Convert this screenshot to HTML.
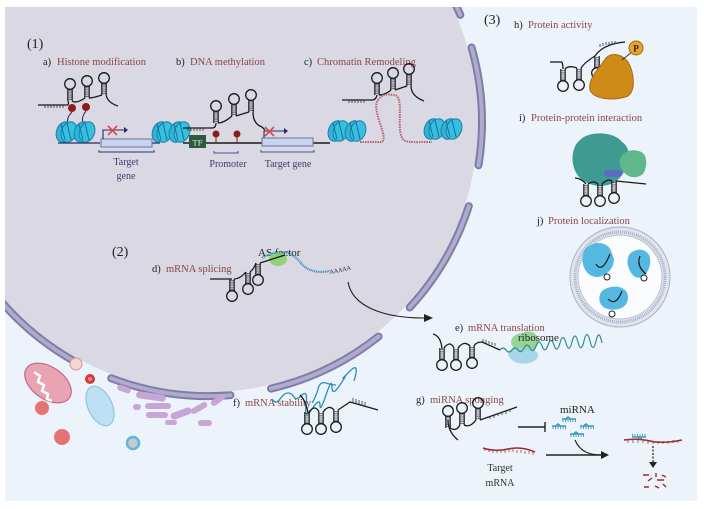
<!DOCTYPE html>
<html><head><meta charset="utf-8"><style>
html,body{margin:0;padding:0;background:#fff;}
svg{display:block;}
text{font-family:"Liberation Serif",serif;}
.lb{fill:#8a4646;font-size:10.5px;}
.dk{fill:#222;font-size:10.5px;}
.nv{fill:#3c3d6a;font-size:10px;}
</style></head><body>
<svg width="704" height="509" viewBox="0 0 704 509" xmlns="http://www.w3.org/2000/svg">
<defs>
<clipPath id="pc"><rect x="5" y="7" width="692" height="494"/></clipPath>
<symbol id="hp" overflow="visible">
 <line x1="-2.2" y1="0" x2="-2.2" y2="-12" stroke="#1a1a1a" stroke-width="1.2"/>
 <line x1="2.2" y1="0" x2="2.2" y2="-12" stroke="#1a1a1a" stroke-width="1.2"/>
 <line x1="0" y1="-1" x2="0" y2="-12" stroke="#333" stroke-width="4.4" stroke-dasharray="0.6 1.3"/>
 <circle cx="0" cy="-17" r="5.3" fill="none" stroke="#1a1a1a" stroke-width="1.3"/>
</symbol>
<symbol id="nuc" overflow="visible">
 <ellipse cx="0" cy="0" rx="7.5" ry="10.5" fill="#2fb3d6" stroke="#1b7fa8" stroke-width="1" transform="rotate(20)"/>
 <ellipse cx="5" cy="0" rx="7.5" ry="10.5" fill="#36bfe0" stroke="#1b7fa8" stroke-width="1" transform="rotate(20 5 0)"/>
 <line x1="-3" y1="-8" x2="1" y2="8" stroke="#1b6f98" stroke-width="1"/>
 <line x1="3" y1="-9" x2="7" y2="8" stroke="#1b6f98" stroke-width="1"/>
</symbol>
<symbol id="mi" overflow="visible">
 <path d="M0 0 h14" stroke="#2a8fb8" stroke-width="1.3" fill="none"/>
 <path d="M1 0v3M3.5 0v3M6 0v3M8.5 0v3M11 0v3M13.5 0v3" stroke="#2a8fb8" stroke-width="0.8"/>
 <path d="M4 0 q2 -4 4 0" stroke="#2a8fb8" stroke-width="1.2" fill="none"/>
</symbol>
</defs>
<rect width="704" height="509" fill="#fff"/>
<g clip-path="url(#pc)">
<rect x="5" y="7" width="692" height="494" fill="#edf3fb"/>
<circle cx="208" cy="122" r="270" fill="#d9d8e3"/>
<g fill="none" stroke-linecap="round">
 <g stroke="#7f7ca6" stroke-width="8">
  <path d="M445.3 -15 A274 274 0 0 1 460.3 14.9"/>
  <path d="M471.6 47.5 A274 274 0 0 1 478.5 165.3"/>
  <path d="M468.8 206.2 A274 274 0 0 1 409.7 307.5"/>
  <path d="M378.6 336.5 A274 274 0 0 1 271 388.6"/>
  <path d="M230.5 395.2 A274 274 0 0 1 111.2 378.3"/>
  <path d="M75.1 361.7 A274 274 0 0 1 2 302.5"/>
 </g>
 <g stroke="#aeabcc" stroke-width="4">
  <path d="M445.3 -15 A274 274 0 0 1 460.3 14.9"/>
  <path d="M471.6 47.5 A274 274 0 0 1 478.5 165.3"/>
  <path d="M468.8 206.2 A274 274 0 0 1 409.7 307.5"/>
  <path d="M378.6 336.5 A274 274 0 0 1 271 388.6"/>
  <path d="M230.5 395.2 A274 274 0 0 1 111.2 378.3"/>
  <path d="M75.1 361.7 A274 274 0 0 1 2 302.5"/>
 </g>
</g>
</g>

<!-- Section 1 -->
<text x="27" y="48" font-size="14" fill="#222">(1)</text>
<text x="43" y="65" class="dk">a)</text><text x="57" y="65" class="lb">Histone modification</text>
<text x="176" y="65" class="dk">b)</text><text x="190" y="65" class="lb">DNA methylation</text>
<text x="304" y="65" class="dk">c)</text><text x="317" y="65" class="lb">Chromatin Remodeling</text>

<!-- a -->
<path d="M38 105 H68" stroke="#1a1a1a" stroke-width="1.3"/>
<path d="M45 105 v3 M48 105v3 M51 105v3 M54 105v3 M57 105v3 M60 105v3 M63 105v3" stroke="#333" stroke-width="0.8"/>
<use href="#hp" x="70" y="101"/>
<use href="#hp" x="87" y="98"/>
<use href="#hp" x="104" y="95"/>
<path d="M68 105 q1 -3 0 -4 M72 101 q4 3 13 -3 M89 98 q4 0 13 -3 M106 95 q2 8 12 11" stroke="#1a1a1a" stroke-width="1.3" fill="none"/>
<circle cx="72" cy="108" r="4" fill="#8e1b1e"/><circle cx="86" cy="107" r="4" fill="#8e1b1e"/>
<path d="M72 112 q-6 6 -4 12 M86 111 q-5 6 -3 12" stroke="#2a2a60" stroke-width="1" fill="none"/>
<path d="M58 143 H100 M152 143 H160" stroke="#2a2a60" stroke-width="1.2"/>
<use href="#nuc" x="64" y="132"/><use href="#nuc" x="82" y="132"/>
<rect x="101" y="139" width="51" height="8" fill="#c9d4ef" stroke="#6a6fa5" stroke-width="1"/>
<path d="M103 139 V130 H124" stroke="#2a2a60" stroke-width="1.1" fill="none"/><path d="M124 127 l4 3 l-4 3z" fill="#2a2a60"/>
<path d="M108 126 l9 9 M117 126 l-9 9" stroke="#d84a4a" stroke-width="1.6"/>
<path d="M99 150 v2 H154 v-2" stroke="#4a4f99" stroke-width="1.2" fill="none"/>
<text x="126" y="165" class="nv" text-anchor="middle">Target</text>
<text x="126" y="179" class="nv" text-anchor="middle">gene</text>

<!-- b -->
<use href="#nuc" x="160" y="132"/><use href="#nuc" x="177" y="132"/>
<path d="M183 143 H330" stroke="#1a1a1a" stroke-width="1.5"/>
<path d="M183 128 H212" stroke="#1a1a1a" stroke-width="1.3"/>
<path d="M188 128v3M191 128v3M194 128v3M197 128v3M200 128v3M203 128v3" stroke="#333" stroke-width="0.8"/>
<rect x="189" y="135" width="17" height="13" fill="#2b5b3c"/>
<text x="197.5" y="145.5" fill="#e8f0e8" font-size="8.5" text-anchor="middle" font-family="Liberation Sans, sans-serif">TF</text>
<use href="#hp" x="216" y="123"/><use href="#hp" x="234" y="116"/><use href="#hp" x="251" y="112"/>
<path d="M212 128 q4 0 4 -5 M218 123 q6 0 14 -7 M236 116 q6 -2 13 -4 M253 112 q0 12 9 15 L265 130" stroke="#1a1a1a" stroke-width="1.3" fill="none"/>
<line x1="216" y1="134" x2="216" y2="143" stroke="#8e1b1e" stroke-width="1"/><circle cx="216" cy="134" r="3.5" fill="#8e1b1e"/>
<line x1="237" y1="134" x2="237" y2="143" stroke="#8e1b1e" stroke-width="1"/><circle cx="237" cy="134" r="3.5" fill="#8e1b1e"/>
<path d="M214 151 v2 H238 v-2" stroke="#4a4f99" stroke-width="1.1" fill="none"/>
<text x="228" y="167" class="nv" text-anchor="middle">Promoter</text>
<rect x="262" y="138" width="51" height="8" fill="#c9d4ef" stroke="#6a6fa5" stroke-width="1"/>
<path d="M264 138 V131 H284" stroke="#2a2a60" stroke-width="1.1" fill="none"/><path d="M284 128 l4 3 l-4 3z" fill="#2a2a60"/>
<path d="M265 127 l9 9 M274 127 l-9 9" stroke="#d84a4a" stroke-width="1.6"/>
<path d="M261 150 v2 H314 v-2" stroke="#4a4f99" stroke-width="1.1" fill="none"/>
<text x="288" y="167" class="nv" text-anchor="middle">Target gene</text>

<!-- c -->
<use href="#nuc" x="336" y="131"/><use href="#nuc" x="353" y="131"/>
<use href="#nuc" x="432" y="129"/><use href="#nuc" x="449" y="129"/>
<path d="M342 100 H372" stroke="#1a1a1a" stroke-width="1.3"/>
<path d="M349 100v3M352 100v3M355 100v3M358 100v3M361 100v3M364 100v3" stroke="#333" stroke-width="0.8"/>
<use href="#hp" x="377" y="95"/><use href="#hp" x="393" y="90"/><use href="#hp" x="409" y="86"/>
<path d="M372 100 q4 0 5 -5 M379 95 q6 0 12 -5 M395 90 q6 -2 12 -4 M411 86 q0 10 13 15" stroke="#1a1a1a" stroke-width="1.3" fill="none"/>
<path d="M360 142 H380 C392 142 370 110 378 100 C384 92 390 95 394 95 C405 96 396 125 402 138 C405 143 410 142 432 142" stroke="#b8606a" stroke-width="2" stroke-dasharray="1.5 1" fill="none"/>

<!-- Section 2 -->
<text x="112" y="256" font-size="14" fill="#222">(2)</text>
<text x="152" y="272" class="dk">d)</text><text x="166" y="272" class="lb">mRNA splicing</text>
<text x="258" y="256" font-size="11" fill="#222">AS factor</text>
<ellipse cx="278" cy="259" rx="9" ry="7" fill="#8ccf6a" opacity="0.9"/>
<path d="M210 279 H232" stroke="#1a1a1a" stroke-width="1.3"/>
<use href="#hp" x="232" y="279" transform="rotate(180 232 279)"/>
<use href="#hp" x="248" y="272" transform="rotate(180 248 272)"/>
<use href="#hp" x="258" y="263" transform="rotate(180 258 263)"/>
<path d="M234 279 q6 0 12 -7 M250 272 q4 -3 6 -9 M260 263 L285 255" stroke="#1a1a1a" stroke-width="1.3" fill="none"/>
<path d="M262 258 C280 248 292 252 300 262 C308 272 318 273 330 271" stroke="#2f8fbf" stroke-width="2.2" stroke-dasharray="1 0.8" fill="none"/>
<text x="330" y="274" font-size="6" fill="#222" transform="rotate(-12 330 274)" font-family="Liberation Sans, sans-serif">AAAAA</text>
<path d="M348 282 C352 305 380 318 425 318" stroke="#222" stroke-width="1.1" fill="none"/>
<path d="M424 314 l9 4 l-9 4z" fill="#222"/>

<!-- Section 3 -->
<text x="484" y="24" font-size="14" fill="#222">(3)</text>
<text x="514" y="28" class="dk">h)</text><text x="528" y="28" class="lb">Protein activity</text>
<path d="M550 62 H562" stroke="#1a1a1a" stroke-width="1.3"/>
<use href="#hp" x="563" y="69" transform="rotate(180 563 69)" />
<use href="#hp" x="579" y="68" transform="rotate(180 579 68)"/>
<path d="M562 62 q1 3 1 7 M565 69 q4 -4 12 -1 M581 68 q4 -6 14 -12" stroke="#1a1a1a" stroke-width="1.3" fill="none"/>
<use href="#hp" x="597" y="56" transform="rotate(180 597 56)"/>
<path d="M595 56 q8 -12 30 -14" stroke="#1a1a1a" stroke-width="1.3" fill="none"/>
<path d="M600 47v-3M603 46v-3M606 45v-3M609 45v-3M612 44v-3M615 44v-3" stroke="#333" stroke-width="0.8"/>
<path d="M606 58 C598 70 588 78 590 90 C594 100 615 101 628 96 C636 90 634 72 628 62 C622 54 612 52 606 58Z" fill="#d08a18" stroke="#a9690f" stroke-width="1"/>
<path d="M622 60 L632 52" stroke="#333" stroke-width="1"/>
<circle cx="636" cy="48" r="7" fill="#e7a22a" stroke="#a9690f" stroke-width="1"/>
<text x="636" y="51.5" font-size="9" text-anchor="middle" font-family="Liberation Sans, sans-serif" font-weight="bold" fill="#222">P</text>

<text x="519" y="121" class="dk">i)</text><text x="531" y="121" class="lb">Protein-protein interaction</text>
<path d="M580 140 C590 130 615 132 622 142 C632 148 630 165 622 175 C612 190 590 188 580 178 C570 168 570 148 580 140Z" fill="#3f9a92"/>
<path d="M620 165 C618 155 628 148 638 151 C648 152 648 166 643 174 C636 180 624 178 620 165Z" fill="#5fb88a"/>
<rect x="604" y="170" width="18" height="7" rx="3" fill="#5b6cc6"/>
<use href="#hp" x="586" y="184" transform="rotate(180 586 184)"/>
<use href="#hp" x="600" y="184" transform="rotate(180 600 184)"/>
<use href="#hp" x="614" y="181" transform="rotate(180 614 181)"/>
<path d="M575 178 q6 0 11 6 M588 184 q6 -4 10 0 M602 184 q6 -6 10 -3 M616 181 L646 184" stroke="#1a1a1a" stroke-width="1.3" fill="none"/>

<text x="537" y="224" class="dk">j)</text><text x="548" y="224" class="lb">Protein localization</text>
<circle cx="620" cy="277" r="50" fill="#dfe4ee" stroke="#aab2c4" stroke-width="1"/>
<circle cx="620" cy="277" r="45" fill="none" stroke="#9aa3b8" stroke-width="3" stroke-dasharray="0.8 1.2"/>
<circle cx="620" cy="277" r="42" fill="#fbfcfe" stroke="#b8bfcf" stroke-width="1"/>
<path d="M585 249 C595 239 610 242 612 254 C618 264 608 276 598 277 C586 278 578 262 585 249Z" fill="#55b8e0"/>
<path d="M632 252 C642 246 652 252 650 264 C648 276 638 282 632 274 C626 266 626 256 632 252Z" fill="#55b8e0"/>
<path d="M605 289 C615 284 628 287 628 297 C628 309 615 312 605 308 C597 304 598 292 605 289Z" fill="#55b8e0"/>
<path d="M596 264 q6 10 14 -10 M640 256 q-4 10 6 18 M608 299 q8 8 14 -8" stroke="#1a1a1a" stroke-width="1.2" fill="none"/>
<circle cx="607" cy="277" r="3" fill="#fff" stroke="#222"/><circle cx="644" cy="278" r="3" fill="#fff" stroke="#222"/><circle cx="612" cy="314" r="3" fill="#fff" stroke="#222"/>

<!-- e -->
<text x="455" y="331" class="dk">e)</text><text x="468" y="331" class="lb">mRNA translation</text>
<path d="M522 333 C532 328 540 335 538 344 C536 352 522 354 514 348 C508 342 512 334 522 333Z" fill="#8ccf8a" opacity="0.9"/>
<path d="M510 350 C520 346 535 348 538 354 C540 362 525 366 515 362 C508 358 506 352 510 350Z" fill="#9ed3e6" opacity="0.9"/>
<text x="518" y="341" font-size="11" fill="#222">ribosome</text>
<path d="M433 334 q8 2 9 15" stroke="#1a1a1a" stroke-width="1.3" fill="none"/>
<use href="#hp" x="442" y="348" transform="rotate(180 442 348)"/>
<use href="#hp" x="456" y="348" transform="rotate(180 456 348)"/>
<use href="#hp" x="472" y="346" transform="rotate(180 472 346)"/>
<path d="M444 348 q6 -8 10 0 M458 348 q6 -8 12 -2 M474 346 q2 -4 8 -4 L500 350" stroke="#1a1a1a" stroke-width="1.3" fill="none"/>
<path d="M483 342v-3M486 343v-3M489 344v-3M492 345v-3M495 346v-3" stroke="#333" stroke-width="0.8"/>
<path d="M500 350 q3 -4 6 0 t6 0 t6 0 t6 -2 t6 0 t6 -2 t6 0 t6 -1 t6 0 t6 -2 t6 0 t6 -1 t6 0 t6 -1 t6 0 t6 0 t6 2" stroke="#2b8f8f" stroke-width="1.2" fill="none"/>

<!-- f -->
<text x="233" y="406" class="dk">f)</text><text x="245" y="406" class="lb">mRNA stability</text>
<path d="M272 399 q4 6 8 0 t8 -6 t6 4 t8 -2 t4 10 t6 4 t8 -4 t6 -10 t6 -8 t8 -2 t4 -8 t6 -6 t4 10" stroke="#2a8fb8" stroke-width="1.3" fill="none"/>
<path d="M312 403 q4 -6 6 -14 t8 -6 t10 2" stroke="#2a8fb8" stroke-width="1.3" fill="none"/>
<path d="M300 395 q6 6 8 18" stroke="#1a1a1a" stroke-width="1.3" fill="none"/>
<use href="#hp" x="307" y="412" transform="rotate(180 307 412)"/>
<use href="#hp" x="321" y="412" transform="rotate(180 321 412)"/>
<use href="#hp" x="336" y="410" transform="rotate(180 336 410)"/>
<path d="M309 412 q6 -8 10 0 M323 412 q6 -8 11 -2 M338 410 L350 402 L378 410" stroke="#1a1a1a" stroke-width="1.3" fill="none"/>
<path d="M353 402v-4M356 403v-4M359 404v-4M362 405v-4M365 406v-4" stroke="#333" stroke-width="0.8"/>

<!-- g -->
<text x="416" y="403" class="dk">g)</text><text x="430" y="403" class="lb">miRNA sponging</text>
<path d="M458 440 q-10 -8 -10 -20" stroke="#1a1a1a" stroke-width="1.3" fill="none"/>
<use href="#hp" x="448" y="428"/>
<use href="#hp" x="462" y="425"/>
<use href="#hp" x="478" y="420"/>
<path d="M450 428 q6 4 10 -3 M464 425 q6 3 12 -5 M480 420 L517 407" stroke="#1a1a1a" stroke-width="1.3" fill="none"/>
<path d="M490 416v3M494 415v3M498 413v3M502 412v3M506 411v3M510 409v3" stroke="#333" stroke-width="0.8"/>
<path d="M518 427 H545 M545 422 V432" stroke="#222" stroke-width="1.4"/>
<text x="560" y="413" font-size="11" fill="#222">miRNA</text>
<use href="#mi" x="562" y="419"/><use href="#mi" x="552" y="426"/><use href="#mi" x="580" y="426"/><use href="#mi" x="570" y="434"/>
<path d="M483 448 q12 4 25 1 t27 3" stroke="#9a2a30" stroke-width="1.5" fill="none"/>
<path d="M485 448v3M489 449v3M493 450v3M497 450v3M501 450v3M505 450v3M509 449v3M513 449v3M517 450v3M521 450v3M525 451v3M529 451v3M533 452v3" stroke="#9a2a30" stroke-width="0.7"/>
<path d="M546 455 H602" stroke="#222" stroke-width="1.4"/>
<path d="M575 440 C580 452 590 455 602 455" stroke="#222" stroke-width="1.2" fill="none"/>
<path d="M601 451 l8 4 l-8 4z" fill="#222"/>
<text x="500" y="471" class="nv" text-anchor="middle" style="fill:#333">Target</text>
<text x="500" y="486" class="nv" text-anchor="middle" style="fill:#333">mRNA</text>
<path d="M624 440 q14 -2 26 1 t32 -1" stroke="#9a2a30" stroke-width="1.5" fill="none"/>
<path d="M628 440v3M633 440v3M638 440v3M643 440v3M648 441v3M653 441v3M658 441v3M663 441v3M668 441v3M673 440v3M678 440v3" stroke="#9a2a30" stroke-width="0.7"/>
<use href="#mi" x="632" y="437" transform="rotate(180 639 437)"/>
<path d="M653 446 V463" stroke="#222" stroke-width="1.2" stroke-dasharray="2 1.5"/>
<path d="M649 462 l4 6 l4 -6z" fill="#222"/>
<path d="M643 475h6M656 473v4M662 475l4 2M648 481l4 -3M657 480h7M644 487h5M655 486l4 2M663 484l3 3" stroke="#9a2a30" stroke-width="1.4"/>

<!-- organelles -->
<ellipse cx="48" cy="383" rx="26" ry="16" transform="rotate(35 48 383)" fill="#e9a3b3" stroke="#c56a80" stroke-width="1.2"/>
<path d="M34 372 l6 4 l-2 6 l6 3 l-2 6 l6 3 l-1 5 l5 2" stroke="#fff" stroke-width="2.5" fill="none"/>
<circle cx="76" cy="364" r="6" fill="#f4d6d0" stroke="#d39a92" stroke-width="1"/>
<circle cx="90" cy="379" r="5" fill="#d43a40"/><circle cx="90" cy="379" r="2" fill="#f08a8a"/>
<circle cx="42" cy="408" r="7" fill="#e57373"/>
<circle cx="62" cy="437" r="8" fill="#e57373"/>
<ellipse cx="100" cy="406" rx="12" ry="21" transform="rotate(-25 100 406)" fill="#bfe0f4" stroke="#8fc3e3" stroke-width="1.2"/>
<circle cx="133" cy="443" r="6" fill="#c7c9cc" stroke="#5cb8e0" stroke-width="2.5"/>
<g fill="#c6a6d6">
 <rect x="117" y="386" width="14" height="6" rx="3" transform="rotate(20 124 389)"/>
 <rect x="136" y="393" width="30" height="7" rx="3.5" transform="rotate(8 151 396)"/>
 <rect x="133" y="404" width="8" height="6" rx="3"/>
 <rect x="145" y="403" width="26" height="6" rx="3"/>
 <rect x="146" y="412" width="22" height="6" rx="3"/>
 <rect x="170" y="410" width="22" height="7" rx="3.5" transform="rotate(-20 181 413)"/>
 <rect x="190" y="405" width="18" height="6" rx="3" transform="rotate(-30 199 408)"/>
 <rect x="198" y="420" width="14" height="6" rx="3"/>
 <rect x="210" y="397" width="16" height="6" rx="3" transform="rotate(-35 218 400)"/>
 <rect x="165" y="420" width="12" height="5" rx="2.5"/>
</g>
</svg>
</body></html>
